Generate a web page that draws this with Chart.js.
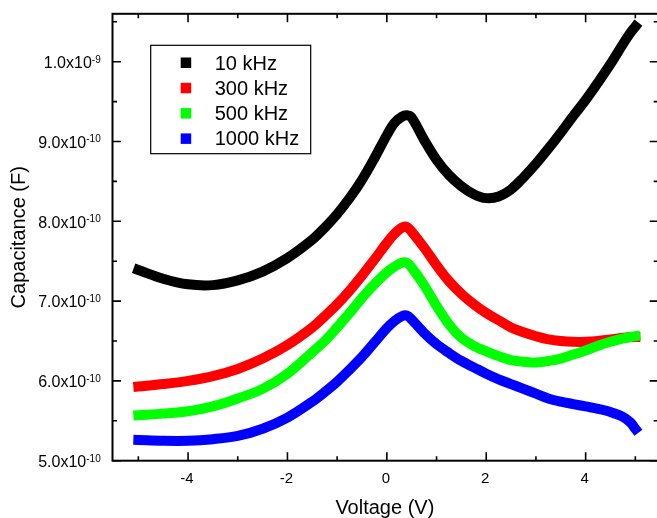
<!DOCTYPE html>
<html>
<head>
<meta charset="utf-8">
<script src="https://cdn.jsdelivr.net/npm/chart.js@4.4.1/dist/chart.umd.min.js"></script>
<style>
  html, body { margin: 0; padding: 0; background: #fff; overflow: hidden; }
  #wrap { width: 668px; height: 518px; }
</style>
</head>
<body>
<div id="wrap"><canvas id="capChart" width="668" height="518"></canvas></div>
<script>
// bias voltage (V)
const voltage = [-5, -4.5, -4, -3.5, -3, -2.5, -2, -1.5, -1.25, -1, -0.75, -0.5, -0.25, 0, 0.15, 0.3, 0.4, 0.5, 0.75, 1, 1.25, 1.5, 1.75, 2, 2.25, 2.5, 2.75, 3, 3.25, 3.5, 3.75, 4, 4.25, 4.5, 4.75, 4.9, 5];

// capacitance (F) for each frequency
const cap10k = [7.39e-10, 7.28e-10, 7.21e-10, 7.20e-10, 7.26e-10, 7.37e-10, 7.54e-10, 7.77e-10, 7.92e-10, 8.09e-10, 8.29e-10, 8.52e-10, 8.79e-10, 9.08e-10, 9.23e-10, 9.31e-10, 9.33e-10, 9.30e-10, 9.02e-10, 8.77e-10, 8.58e-10, 8.44e-10, 8.34e-10, 8.29e-10, 8.31e-10, 8.40e-10, 8.55e-10, 8.72e-10, 8.91e-10, 9.11e-10, 9.32e-10, 9.52e-10, 9.74e-10, 9.97e-10, 10.22e-10, 10.36e-10, 10.44e-10];
const cap300k = [5.93e-10, 5.96e-10, 6.00e-10, 6.06e-10, 6.15e-10, 6.28e-10, 6.45e-10, 6.67e-10, 6.81e-10, 6.96e-10, 7.13e-10, 7.32e-10, 7.52e-10, 7.73e-10, 7.84e-10, 7.92e-10, 7.93e-10, 7.87e-10, 7.67e-10, 7.45e-10, 7.25e-10, 7.09e-10, 6.96e-10, 6.85e-10, 6.76e-10, 6.67e-10, 6.61e-10, 6.56e-10, 6.52e-10, 6.50e-10, 6.49e-10, 6.49e-10, 6.50e-10, 6.52e-10, 6.54e-10, 6.55e-10, 6.55e-10];
const cap500k = [5.57e-10, 5.59e-10, 5.62e-10, 5.68e-10, 5.78e-10, 5.90e-10, 6.09e-10, 6.36e-10, 6.50e-10, 6.67e-10, 6.85e-10, 7.04e-10, 7.21e-10, 7.36e-10, 7.43e-10, 7.48e-10, 7.48e-10, 7.42e-10, 7.20e-10, 6.94e-10, 6.71e-10, 6.54e-10, 6.44e-10, 6.37e-10, 6.31e-10, 6.26e-10, 6.24e-10, 6.23e-10, 6.25e-10, 6.28e-10, 6.33e-10, 6.38e-10, 6.44e-10, 6.49e-10, 6.53e-10, 6.55e-10, 6.56e-10];
const cap1000k = [5.26e-10, 5.25e-10, 5.25e-10, 5.27e-10, 5.31e-10, 5.40e-10, 5.54e-10, 5.74e-10, 5.86e-10, 5.99e-10, 6.14e-10, 6.30e-10, 6.48e-10, 6.66e-10, 6.75e-10, 6.81e-10, 6.82e-10, 6.77e-10, 6.60e-10, 6.46e-10, 6.35e-10, 6.25e-10, 6.17e-10, 6.09e-10, 6.02e-10, 5.96e-10, 5.90e-10, 5.84e-10, 5.78e-10, 5.74e-10, 5.71e-10, 5.68e-10, 5.65e-10, 5.61e-10, 5.55e-10, 5.48e-10, 5.40e-10];

const seriesNames = ["10 kHz", "300 kHz", "500 kHz", "1000 kHz"];
const seriesColors = ["#000000", "#ff0000", "#00ff00", "#0000ff"];

// ticks
const xMajor = [-4, -2, 0, 2, 4];
const xMinor = [-5, -3, -1, 1, 3, 5];
const yMajor = [5e-10, 6e-10, 7e-10, 8e-10, 9e-10, 1e-9];
const yMajorText = [["5.0x10", "-10"], ["6.0x10", "-10"], ["7.0x10", "-10"], ["8.0x10", "-10"], ["9.0x10", "-10"], ["1.0x10", "-9"]];
const yMinor = [5.5e-10, 6.5e-10, 7.5e-10, 8.5e-10, 9.5e-10, 1.05e-9];

const FONT = "'Liberation Sans', Arial, sans-serif";

function toPoints(values) {
  return voltage.map((v, i) => ({ x: v, y: values[i] }));
}

// frame, inward ticks, labels, titles and legend (Origin style)
const originAxes = {
  id: "originAxes",
  afterDatasetsDraw(chart) {
    const ctx = chart.ctx;
    const a = chart.chartArea;
    const xs = chart.scales.x;
    const ys = chart.scales.y;

    ctx.save();
    ctx.strokeStyle = "#000";
    ctx.lineWidth = 2;
    ctx.strokeRect(a.left, a.top, a.right - a.left, a.bottom - a.top);

    ctx.lineWidth = 1.6;
    ctx.beginPath();
    xMajor.forEach((v) => {
      const px = xs.getPixelForValue(v);
      ctx.moveTo(px, a.bottom); ctx.lineTo(px, a.bottom - 8.5);
      ctx.moveTo(px, a.top); ctx.lineTo(px, a.top + 8.5);
    });
    xMinor.forEach((v) => {
      const px = xs.getPixelForValue(v);
      ctx.moveTo(px, a.bottom); ctx.lineTo(px, a.bottom - 4.5);
      ctx.moveTo(px, a.top); ctx.lineTo(px, a.top + 4.5);
    });
    yMajor.forEach((v) => {
      const py = ys.getPixelForValue(v);
      ctx.moveTo(a.left, py); ctx.lineTo(a.left + 8.5, py);
      ctx.moveTo(a.right, py); ctx.lineTo(a.right - 8.5, py);
    });
    yMinor.forEach((v) => {
      const py = ys.getPixelForValue(v);
      ctx.moveTo(a.left, py); ctx.lineTo(a.left + 4.5, py);
      ctx.moveTo(a.right, py); ctx.lineTo(a.right - 4.5, py);
    });
    ctx.stroke();

    ctx.fillStyle = "#000";

    // x tick labels
    ctx.font = "15px " + FONT;
    ctx.textAlign = "center";
    ctx.textBaseline = "alphabetic";
    xMajor.forEach((v) => {
      ctx.fillText(String(v), xs.getPixelForValue(v) - 1, a.bottom + 22.6);
    });

    // y tick labels with superscript exponent
    yMajor.forEach((v, i) => {
      const py = ys.getPixelForValue(v);
      const right = a.left - 11.8;
      ctx.font = "10px " + FONT;
      ctx.textAlign = "right";
      const expW = ctx.measureText(yMajorText[i][1]).width;
      ctx.fillText(yMajorText[i][1], right, py + 1);
      ctx.font = "16px " + FONT;
      ctx.fillText(yMajorText[i][0], right - expW, py + 6.4);
    });

    // axis titles
    ctx.font = "20px " + FONT;
    ctx.textAlign = "center";
    ctx.fillText("Voltage (V)", (a.left + a.right) / 2 - 0.5, a.bottom + 53);
    ctx.save();
    ctx.translate(25, (a.top + a.bottom) / 2);
    ctx.rotate(-Math.PI / 2);
    ctx.fillText("Capacitance (F)", 0, 0);
    ctx.restore();

    // legend box
    const lx = a.left + 38.2;
    const ly = a.top + 31.5;
    ctx.lineWidth = 1.2;
    ctx.strokeRect(lx, ly, 160, 108.4);
    ctx.font = "20px " + FONT;
    ctx.textAlign = "left";
    seriesNames.forEach((name, i) => {
      const cy = ly + 17.2 + i * 25.3;
      ctx.fillStyle = seriesColors[i];
      ctx.fillRect(lx + 30, cy - 5, 10.5, 10.5);
      ctx.fillStyle = "#000";
      ctx.fillText(name, lx + 64, cy + 7);
    });
    ctx.restore();
  }
};

const allSeries = [cap10k, cap300k, cap500k, cap1000k];

new Chart(document.getElementById("capChart"), {
  type: "line",
  data: {
    datasets: allSeries.map((vals, i) => ({
      label: seriesNames[i],
      data: toPoints(vals),
      borderColor: seriesColors[i],
      backgroundColor: seriesColors[i],
      borderWidth: 10,
      borderCapStyle: "square",
      borderJoinStyle: "round",
      tension: 0.35,
      pointRadius: 0,
      pointHoverRadius: 0,
      fill: false,
      order: 4 - i
    }))
  },
  options: {
    responsive: false,
    animation: false,
    devicePixelRatio: 1,
    layout: { padding: { left: 112.5, top: 13.8, right: 9.8, bottom: 57.3 } },
    plugins: {
      legend: { display: false },
      tooltip: { enabled: false }
    },
    scales: {
      x: { type: "linear", min: -5.52, max: 5.46, display: false },
      y: { type: "linear", min: 5e-10, max: 1.06e-9, display: false }
    }
  },
  plugins: [originAxes]
});
</script>
</body>
</html>
